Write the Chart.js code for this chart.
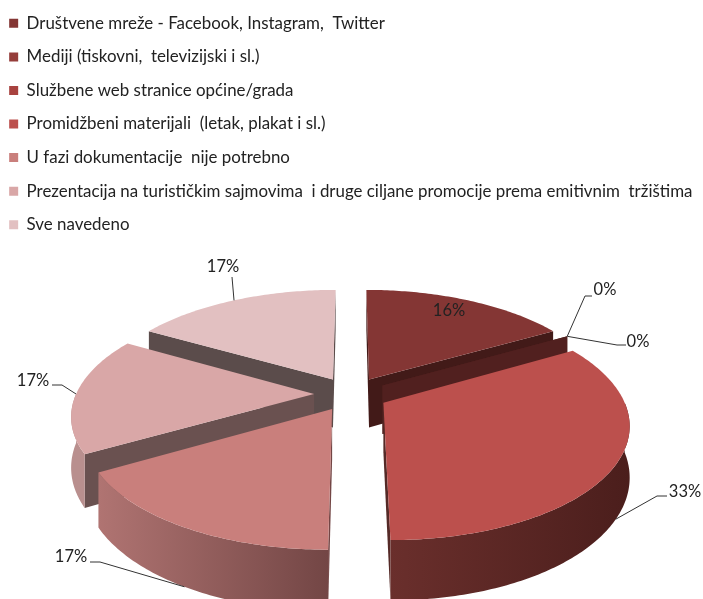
<!DOCTYPE html>
<html>
<head>
<meta charset="utf-8">
<style>
  html, body { margin: 0; padding: 0; background: #fff; }
  #wrap { width: 703px; height: 599px; }
</style>
<script src="https://cdn.jsdelivr.net/npm/chart.js@4/dist/chart.umd.js"></script>
</head>
<body>
<div id="wrap"><canvas id="chart"></canvas></div>
<script>
const categories = [
  'Društvene mreže - Facebook, Instagram,  Twitter',
  'Mediji (tiskovni,  televizijski i sl.)',
  'Službene web stranice općine/grada',
  'Promidžbeni materijali  (letak, plakat i sl.)',
  'U fazi dokumentacije  nije potrebno',
  'Prezentacija na turističkim sajmovima  i druge ciljane promocije prema emitivnim  tržištima',
  'Sve navedeno',
];
// the slices are exactly sixths, the printed labels are what the picture says
const values = [16.67, 0, 0, 33.33, 16.67, 16.67, 16.67];
const percentLabels = ['16%', '0%', '0%', '33%', '17%', '17%', '17%'];
const topColors = ['#843634', '#953d3a', '#a8423f', '#bc504d', '#c97f7c', '#d9a7a7', '#e2c0c1'];
const cutColors = ['#421a18', '#51201f', '#51201f', '#552a27', '#734645', '#6a5150', '#5b4c4b'];
const rimColors = [
  ['#421a18', '#421a18'], ['#51201f', '#51201f'], ['#51201f', '#51201f'],
  ['#6a2f2c', '#4b1e1c'], ['#b07472', '#734645'], ['#b98f8e', '#b98f8e'], ['#5b4c4b', '#5b4c4b'],
];

// where the percentage text goes, and the elbow of its leader line
const labelSpots = [[449, 311], [605, 290], [638, 342], [685, 492], [71, 557], [33, 381], [223, 267]];
const elbows = [null, [[585, 296], [592, 296]], [[617, 345], [626, 345]], [[657, 496], [667, 496]],
  [[100, 562], [90, 562]], [[62, 385], [52, 385]], [[232, 277]]];
const anchorDepth = [0, 0, 0, 1, 1, 0, 0];

// tilted, exploded pie: ground plane -> screen
const view = { cx: 351, cy: 394, R: 238, A: 110, depth: 49, persp: 0.175, explode: 0.155 };

function project(gx, gy, z) {
  const s = 1 / (1 + view.persp * gy);
  return [view.cx + view.R * s * gx, view.cy - view.A * gy * s + view.depth * z * s];
}

function fillPoly(ctx, pts, fill) {
  ctx.beginPath();
  pts.forEach((p, i) => (i ? ctx.lineTo(p[0], p[1]) : ctx.moveTo(p[0], p[1])));
  ctx.closePath();
  ctx.fillStyle = fill;
  ctx.fill();
}

const pie3d = {
  id: 'pie3d',
  // arcs keep their angles from the pie controller, only the drawing is replaced
  beforeDatasetsDraw(chart) {
    const ctx = chart.ctx;
    const slices = chart.getDatasetMeta(0).data.map((arc, i) => {
      const a = arc.startAngle + Math.PI / 2;
      const b = arc.endAngle + Math.PI / 2;
      const m = (a + b) / 2;
      const ox = view.explode * Math.sin(m);
      const oy = view.explode * Math.cos(m);
      const rim = (t, z) => project(ox + Math.sin(t), oy + Math.cos(t), z);
      return { i, a, b, m, ox, oy, rim };
    });

    [...slices].sort((p, q) => q.oy - p.oy).forEach((sl) => {
      const { i, a, b, ox, oy, rim } = sl;
      const apex = (z) => project(ox, oy, z);
      const arcPts = (from, to, z) => {
        const n = Math.max(1, Math.ceil((to - from) / 0.015));
        const out = [];
        for (let k = 0; k <= n; k++) out.push(rim(from + ((to - from) * k) / n, z));
        return out;
      };

      // cut faces turned towards the viewer
      if (Math.cos(a - Math.PI / 2) < 0.01) {
        fillPoly(ctx, [apex(0), rim(a, 0), rim(a, 1), apex(1)], cutColors[i]);
      }
      if (Math.cos(b + Math.PI / 2) < 0.01) {
        fillPoly(ctx, [apex(0), rim(b, 0), rim(b, 1), apex(1)], cutColors[i]);
      }

      // front part of the outer wall
      const from = Math.max(a, Math.PI / 2);
      const to = Math.min(b, (3 * Math.PI) / 2);
      if (to > from) {
        const upper = arcPts(from, to, 0);
        const lower = arcPts(from, to, 1).reverse();
        const xs = upper.concat(lower).map((p) => p[0]);
        const g = ctx.createLinearGradient(Math.min(...xs), 0, Math.max(...xs), 0);
        g.addColorStop(0, rimColors[i][0]);
        g.addColorStop(1, rimColors[i][1]);
        fillPoly(ctx, upper.concat(lower), g);
      }

      if (b > a) fillPoly(ctx, [apex(0), ...arcPts(a, b, 0)], topColors[i]);
    });

    // leader lines and percentages
    ctx.font = '16.5px Lato';
    ctx.textAlign = 'center';
    ctx.textBaseline = 'middle';
    slices.forEach((sl) => {
      const { i } = sl;
      if (elbows[i]) {
        const start = sl.rim(sl.m, anchorDepth[i]);
        ctx.beginPath();
        ctx.moveTo(start[0], start[1]);
        elbows[i].forEach((p) => ctx.lineTo(p[0], p[1]));
        ctx.strokeStyle = '#333';
        ctx.lineWidth = 1;
        ctx.stroke();
      }
      ctx.fillStyle = '#222';
      ctx.fillText(percentLabels[i], labelSpots[i][0], labelSpots[i][1]);
    });
    return false;
  },
};

new Chart(document.getElementById('chart'), {
  type: 'pie',
  data: {
    labels: categories,
    datasets: [{ data: values, backgroundColor: topColors, borderWidth: 0 }],
  },
  options: {
    responsive: true,
    maintainAspectRatio: false,
    animation: false,
    layout: { padding: { left: -7.5, top: -1.8 } },
    plugins: {
      tooltip: { enabled: false },
      legend: {
        position: 'left',
        align: 'start',
        maxWidth: 720,
        labels: {
          color: '#222',
          boxWidth: 9,
          boxHeight: 9,
          padding: 16.67,
          font: { family: 'Lato', size: 16.9 },
        },
      },
    },
  },
  plugins: [pie3d],
});
</script>
</body>
</html>
